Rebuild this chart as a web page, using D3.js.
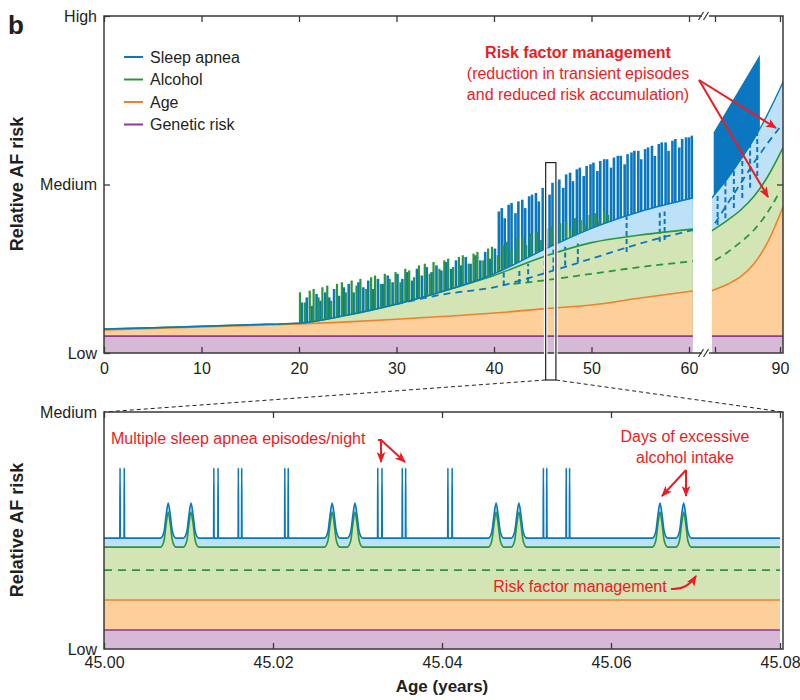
<!DOCTYPE html>
<head>
    <meta charset="utf-8">
    <script src="https://d3js.org/d3.v7.min.js"></script>
    <style>
        body { margin: 0; background: #fff; }
        text { font-family: "Liberation Sans", Arial, sans-serif; fill: #231f20; }
        .tick text { font-size: 16px; }
        .tick line { stroke: #3a3a3a; stroke-width: 1.3; }
    </style>
</head>
<body>
<svg id="chart" width="800" height="700"></svg>
<script>
    // ---------- data: top panel, ages 0-60 ----------
    const leftTicks = [0, 10, 20, 30, 40, 50, 60];
    const leftAges = [0, 5, 10, 15, 20, 25, 30, 35, 40, 45, 50, 55, 60.4];
    const leftGenetic = [0.10, 0.10, 0.10, 0.10, 0.10, 0.10, 0.10, 0.10, 0.10, 0.10, 0.10, 0.10, 0.10];
    const leftAgeRisk = [0.137, 0.145, 0.154, 0.163, 0.172, 0.185, 0.200, 0.218, 0.237, 0.262, 0.285, 0.326, 0.368];
    const leftAlcohol = [0.142, 0.150, 0.159, 0.168, 0.177, 0.225, 0.290, 0.370, 0.460, 0.570, 0.655, 0.700, 0.735];
    const leftSleep = [0.142, 0.150, 0.159, 0.168, 0.177, 0.225, 0.290, 0.370, 0.470, 0.610, 0.740, 0.840, 0.920];
    const leftAlcMgAges = [42, 45, 50, 55, 60.4];
    const leftAlcMg = [0.41, 0.43, 0.47, 0.51, 0.545];
    const leftSlpMgAges = [30, 35, 40, 45, 50, 55, 60.4];
    const leftSlpMg = [0.29, 0.35, 0.39, 0.47, 0.56, 0.65, 0.73];

    const greenSpikeAge = [20.1, 20.6, 21.1, 21.5, 22.0, 22.4, 22.9, 23.3, 23.9, 24.4, 24.8, 25.4, 25.9, 26.3, 26.9,
        27.4, 27.8, 28.4, 28.8, 29.3, 29.9, 30.4, 30.9, 31.3, 31.8, 32.3, 32.9, 33.4, 33.8, 34.4, 34.9, 35.3, 35.8,
        36.4, 36.8, 37.4, 37.9, 38.3, 38.9, 39.4, 39.8, 40.4, 40.9, 41.3, 41.8, 42.4, 42.9, 43.3, 43.8, 44.4, 44.8,
        45.4, 45.9, 46.3, 46.8, 47.4, 47.8, 48.3, 48.9, 49.3, 49.8, 50.4, 50.8, 51.3, 51.7];
    const greenSpikeTop = [0.36, 0.30, 0.37, 0.38, 0.33, 0.39, 0.40, 0.31, 0.41, 0.42, 0.36, 0.43, 0.40, 0.44, 0.38,
        0.45, 0.46, 0.41, 0.47, 0.44, 0.48, 0.42, 0.50, 0.49, 0.45, 0.52, 0.53, 0.47, 0.54, 0.50, 0.55, 0.56, 0.51,
        0.57, 0.58, 0.53, 0.59, 0.60, 0.55, 0.62, 0.63, 0.58, 0.64, 0.66, 0.61, 0.68, 0.69, 0.64, 0.71, 0.72, 0.67,
        0.74, 0.75, 0.70, 0.77, 0.78, 0.73, 0.80, 0.79, 0.76, 0.82, 0.83, 0.78, 0.84, 0.82];

    const blueSpikeAge = [20.3, 20.8, 21.3, 21.8, 22.2, 22.7, 23.1, 23.6, 24.1, 24.6, 25.1, 25.6, 26.1, 26.6, 27.1,
        27.6, 28.1, 28.6, 29.1, 29.6, 30.1, 30.6, 31.1, 31.6, 32.1, 32.6, 33.1, 33.6, 34.1, 34.6, 35.1, 35.6, 36.1,
        36.6, 37.1, 37.6, 38.1, 38.6, 39.1, 39.6, 40.1,
        40.5, 40.8, 41.1, 41.5, 41.8, 42.2, 42.5, 42.9, 43.2, 43.6, 43.9, 44.3, 44.6, 45.0, 45.3, 45.7, 46.0, 46.4,
        46.7, 47.1, 47.4, 47.8, 48.1, 48.5, 48.8, 49.2, 49.5, 49.9, 50.2, 50.6, 50.9, 51.3, 51.6, 52.0, 52.3, 52.7,
        53.0, 53.4, 53.7, 54.1, 54.4, 54.8, 55.1, 55.5, 55.8, 56.2, 56.5, 56.9, 57.2, 57.6, 57.9, 58.3, 58.6, 59.0,
        59.3, 59.7, 60.0, 60.3];
    const blueSpikeTop = [0.30, 0.33, 0.28, 0.35, 0.31, 0.36, 0.33, 0.38, 0.34, 0.39, 0.41, 0.36, 0.42, 0.39, 0.43,
        0.38, 0.44, 0.41, 0.46, 0.42, 0.47, 0.44, 0.48, 0.43, 0.50, 0.46, 0.51, 0.48, 0.52, 0.49, 0.54, 0.50, 0.55,
        0.52, 0.57, 0.53, 0.58, 0.55, 0.60, 0.56, 0.62,
        0.84, 0.86, 0.80, 0.88, 0.89, 0.83, 0.90, 0.91, 0.86, 0.93, 0.94, 0.95, 0.90, 0.98, 0.99, 0.94, 1.01, 1.02,
        1.03, 0.98, 1.06, 1.07, 1.02, 1.09, 1.10, 1.05, 1.11, 1.12, 1.13, 1.08, 1.14, 1.15, 1.15, 1.10, 1.16, 1.17,
        1.17, 1.12, 1.18, 1.19, 1.20, 1.20, 1.15, 1.21, 1.22, 1.23, 1.17, 1.24, 1.25, 1.25, 1.20, 1.26, 1.27, 1.22,
        1.27, 1.28, 1.28, 1.29];

    const leftMgSpikeAge = [41.0, 42.6, 43.5, 45.2, 46.1, 47.3, 48.6, 53.6, 57.0, 57.5];
    const leftMgSpikeLow = [0.40, 0.41, 0.42, 0.47, 0.49, 0.52, 0.54, 0.60, 0.66, 0.67];
    const leftMgSpikeHigh = [0.48, 0.50, 0.53, 0.58, 0.62, 0.63, 0.65, 0.81, 0.84, 0.84];

    // ---------- data: top panel, after the axis break ----------
    const rightTicks = [80, 90];
    const rightTickText = ["", "90"];
    const rightAges = [79.5, 82, 84, 86, 88, 90.5];
    const rightGenetic = [0.10, 0.10, 0.10, 0.10, 0.10, 0.10];
    const rightAgeRisk = [0.37, 0.41, 0.455, 0.53, 0.65, 0.87];
    const rightAlcohol = [0.725, 0.79, 0.85, 0.93, 1.04, 1.22];
    const rightSleep = [0.92, 1.04, 1.15, 1.27, 1.41, 1.61];
    const rightMgAges = [80, 82, 84, 86, 88, 90];
    const rightAlcMg = [0.55, 0.60, 0.66, 0.73, 0.83, 0.96];
    const rightSlpMg = [0.77, 0.89, 1.01, 1.13, 1.24, 1.34];
    const rightBurstAge = [79.8, 86.9];
    const rightBurstTop = [1.31, 1.77];
    const rightMgSpikeAge = [80.4, 81.6, 82.9, 84.2, 85.4, 86.5];
    const rightMgSpikeLow = [0.76, 0.80, 0.86, 0.92, 0.98, 1.05];
    const rightMgSpikeHigh = [0.95, 1.02, 1.09, 1.17, 1.25, 1.32];

    const riskLabels = ["Low", "Medium", "High"];
    const legendNames = ["Sleep apnea", "Alcohol", "Age", "Genetic risk"];

    // ---------- data: zoomed panel (one month at age 45) ----------
    const zoomTicks = [45.00, 45.02, 45.04, 45.06, 45.08];
    const zoomApneaAges = [45.0019, 45.0024, 45.0130, 45.0135, 45.0159, 45.0163, 45.0214, 45.0218, 45.0324,
        45.0329, 45.0353, 45.0357, 45.0407, 45.0412, 45.0520, 45.0524, 45.0547, 45.0551];
    const zoomAlcoholDays = [45.0076, 45.0103, 45.0270, 45.0297, 45.0464, 45.0491, 45.0658, 45.0686];
    const zoomGenetic = 0.08;
    const zoomAgeRisk = 0.207;
    const zoomAlcMg = 0.333;
    const zoomAlcohol = 0.43;
    const zoomSleep = 0.468;
    const zoomApneaTop = 0.764;
    const zoomBump = 0.148;

    const col = {
        blue: "#0a77c0", green: "#2a963a", orange: "#f47f2a", purple: "#8d3996",
        lblue: "#bde2f7", lgreen: "#d3e5b4", lorange: "#fdd09b", lpurple: "#d6b9d7",
        red: "#ec1c24", axis: "#3a3a3a"
    };

    const svg = d3.select("#chart");
    const defs = svg.append("defs");
    defs.append("marker").attr("id", "arrow")
        .attr("viewBox", "0 0 10 8").attr("refX", 9).attr("refY", 4)
        .attr("markerWidth", 11).attr("markerHeight", 9).attr("markerUnits", "userSpaceOnUse")
        .attr("orient", "auto")
        .append("path").attr("d", "M0,0 L10,4 L0,8 L2.5,4 z").attr("fill", col.red);

    // ---------- top panel ----------
    const yTop = d3.scaleLinear().domain([0, 2]).range([353, 16]);
    const xLeft = d3.scaleLinear().domain([0, 60]).range([104, 689]);
    const xRight = d3.scaleLinear().domain([80, 90]).range([715, 780]);

    function drawSegment(x, id, s) {
        defs.append("clipPath").attr("id", id).append("rect")
            .attr("x", x(s.ages[0])).attr("y", yTop(2))
            .attr("width", x(s.ages[s.ages.length - 1]) - x(s.ages[0]))
            .attr("height", yTop(0) - yTop(2));
        const g = svg.append("g").attr("clip-path", "url(#" + id + ")");

        // transient spikes (drawn first, fills cover the part under the baselines)
        if (s.burst) {
            g.append("path")
                .datum(s.burst.age.map((a, i) => ({a: a, v: s.burst.top[i]})))
                .attr("fill", col.blue)
                .attr("d", d3.area().x(d => x(d.a)).y0(yTop(0.1)).y1(d => yTop(d.v)));
        }
        if (s.blueSpikes) {
            g.selectAll("rect.bs").data(s.blueSpikes.age.map((a, i) => ({a: a, v: s.blueSpikes.top[i]})))
                .join("rect").attr("class", "bs")
                .attr("x", d => x(d.a) - 1.3).attr("width", 2.6)
                .attr("y", d => yTop(d.v)).attr("height", d => yTop(0.1) - yTop(d.v))
                .attr("fill", col.blue);
        }
        if (s.greenSpikes) {
            g.selectAll("rect.gs").data(s.greenSpikes.age.map((a, i) => ({a: a, v: s.greenSpikes.top[i]})))
                .join("rect").attr("class", "gs")
                .attr("x", d => x(d.a) - 1.1).attr("width", 2.2)
                .attr("y", d => yTop(d.v)).attr("height", d => yTop(0.1) - yTop(d.v))
                .attr("fill", col.green);
        }

        const rows = s.ages.map((a, i) => ({
            a: a, zero: 0, gen: s.genetic[i], age: s.age[i], alc: s.alcohol[i], slp: s.sleep[i]
        }));
        const band = (lo, hi) => d3.area().x(d => x(d.a)).y0(d => yTop(d[lo])).y1(d => yTop(d[hi]))
            .curve(d3.curveMonotoneX);
        const line = key => d3.line().x(d => x(d.a)).y(d => yTop(d[key])).curve(d3.curveMonotoneX);

        g.append("path").datum(rows).attr("fill", col.lpurple).attr("d", band("zero", "gen"));
        g.append("path").datum(rows).attr("fill", col.lorange).attr("d", band("gen", "age"));
        g.append("path").datum(rows).attr("fill", col.lgreen).attr("d", band("age", "alc"));
        g.append("path").datum(rows).attr("fill", col.lblue).attr("d", band("alc", "slp"));

        // risk factor management (dashed)
        const mgLine = d3.line().x(d => x(d.a)).y(d => yTop(d.v)).curve(d3.curveMonotoneX);
        g.append("path").datum(s.alcMg.ages.map((a, i) => ({a: a, v: s.alcMg.v[i]})))
            .attr("fill", "none").attr("stroke", col.green).attr("stroke-width", 1.8)
            .attr("stroke-dasharray", "7,5").attr("d", mgLine);
        g.append("path").datum(s.slpMg.ages.map((a, i) => ({a: a, v: s.slpMg.v[i]})))
            .attr("fill", "none").attr("stroke", col.blue).attr("stroke-width", 1.8)
            .attr("stroke-dasharray", "7,5").attr("d", mgLine);
        g.selectAll("line.mg").data(s.mgSpikes.age.map((a, i) => ({a: a, lo: s.mgSpikes.low[i], hi: s.mgSpikes.high[i]})))
            .join("line").attr("class", "mg")
            .attr("x1", d => x(d.a)).attr("x2", d => x(d.a))
            .attr("y1", d => yTop(d.lo)).attr("y2", d => yTop(d.hi))
            .attr("stroke", col.blue).attr("stroke-width", 2).attr("stroke-dasharray", "5,3");

        const lineRows = rows.filter(d => d.a >= s.lineFrom && d.a <= s.lineTo + 1);
        g.append("path").datum(rows).attr("fill", "none").attr("stroke", col.purple).attr("stroke-width", 1.6).attr("d", line("gen"));
        g.append("path").datum(rows).attr("fill", "none").attr("stroke", col.orange).attr("stroke-width", 1.6).attr("d", line("age"));
        g.append("path").datum(rows).attr("fill", "none").attr("stroke", col.green).attr("stroke-width", 1.6).attr("d", line("alc"));
        g.append("path").datum(rows).attr("fill", "none").attr("stroke", col.blue).attr("stroke-width", 1.4).attr("d", line("slp"));
    }

    drawSegment(xLeft, "clipL", {
        ages: leftAges, genetic: leftGenetic, age: leftAgeRisk, alcohol: leftAlcohol, sleep: leftSleep,
        alcMg: {ages: leftAlcMgAges, v: leftAlcMg}, slpMg: {ages: leftSlpMgAges, v: leftSlpMg},
        blueSpikes: {age: blueSpikeAge, top: blueSpikeTop}, greenSpikes: {age: greenSpikeAge, top: greenSpikeTop},
        mgSpikes: {age: leftMgSpikeAge, low: leftMgSpikeLow, high: leftMgSpikeHigh}
    });
    drawSegment(xRight, "clipR", {
        ages: rightAges, genetic: rightGenetic, age: rightAgeRisk, alcohol: rightAlcohol, sleep: rightSleep,
        alcMg: {ages: rightMgAges, v: rightAlcMg}, slpMg: {ages: rightMgAges, v: rightSlpMg},
        burst: {age: rightBurstAge, top: rightBurstTop},
        mgSpikes: {age: rightMgSpikeAge, low: rightMgSpikeLow, high: rightMgSpikeHigh}
    });

    // axes of the top panel
    const noDomain = g => g.select(".domain").remove();
    svg.append("g").attr("transform", "translate(0,353)")
        .call(d3.axisBottom(xLeft).tickValues(leftTicks).tickSizeInner(-6).tickSizeOuter(0).tickPadding(10))
        .call(noDomain);
    svg.append("g").attr("transform", "translate(0,353)")
        .call(d3.axisBottom(xRight).tickValues(rightTicks).tickFormat((d, i) => rightTickText[i])
            .tickSizeInner(-6).tickSizeOuter(0).tickPadding(10))
        .call(noDomain);
    svg.append("g").attr("transform", "translate(0,16)")
        .call(d3.axisTop(xLeft).tickValues(leftTicks).tickFormat("").tickSizeInner(-6).tickSizeOuter(0))
        .call(noDomain);
    svg.append("g").attr("transform", "translate(0,16)")
        .call(d3.axisTop(xRight).tickValues(rightTicks).tickFormat("").tickSizeInner(-6).tickSizeOuter(0))
        .call(noDomain);
    svg.append("g").attr("transform", "translate(104,0)")
        .call(d3.axisLeft(yTop).tickValues([0, 1, 2]).tickFormat(d => riskLabels[d])
            .tickSizeInner(-6).tickSizeOuter(0).tickPadding(7))
        .call(noDomain);
    svg.append("g").attr("transform", "translate(783,0)")
        .call(d3.axisRight(yTop).tickValues([1]).tickFormat("").tickSizeInner(-6).tickSizeOuter(0))
        .call(noDomain);

    // frame with axis break
    const frame = svg.append("g").attr("stroke", col.axis).attr("stroke-width", 1.5).attr("fill", "none");
    frame.append("path").attr("d", "M702,16 H104 V353 H702");
    frame.append("path").attr("d", "M709,16 H783 V353 H709");
    [16, 353].forEach(yy => {
        [701, 706].forEach(xx => {
            frame.append("line").attr("x1", xx - 2.5).attr("y1", yy + 4).attr("x2", xx + 2.5).attr("y2", yy - 4)
                .attr("stroke-width", 1.2);
        });
    });

    // legend
    const leg = svg.append("g").attr("transform", "translate(124,57)");
    [col.blue, col.green, col.orange, col.purple].forEach((c, i) => {
        leg.append("line").attr("x1", 0).attr("x2", 19).attr("y1", i * 22.5).attr("y2", i * 22.5)
            .attr("stroke", c).attr("stroke-width", 2);
        leg.append("text").attr("x", 26).attr("y", i * 22.5).attr("dy", "0.35em")
            .style("font-size", "16px").text(legendNames[i]);
    });

    // annotation top
    const ann = svg.append("g").style("font-size", "16px").attr("text-anchor", "middle");
    ann.append("text").attr("x", 578).attr("y", 58).style("fill", col.red).style("font-weight", "bold")
        .text("Risk factor management");
    ann.append("text").attr("x", 578).attr("y", 79).style("fill", col.red).text("(reduction in transient episodes");
    ann.append("text").attr("x", 578).attr("y", 100).style("fill", col.red).text("and reduced risk accumulation)");
    const arrow = (x1, y1, x2, y2) => svg.append("line").attr("x1", x1).attr("y1", y1).attr("x2", x2).attr("y2", y2)
        .attr("stroke", col.red).attr("stroke-width", 2).attr("marker-end", "url(#arrow)");
    arrow(699, 80, 776, 128);
    arrow(699, 80, 768, 197);

    // zoom window and connectors
    const zoomWin = [45.3, 46.35];
    svg.append("rect").attr("x", xLeft(zoomWin[0])).attr("y", yTop(1.13))
        .attr("width", xLeft(zoomWin[1]) - xLeft(zoomWin[0])).attr("height", 380 - yTop(1.13))
        .attr("fill", "none").attr("stroke", "#fff").attr("stroke-width", 3.5);
    svg.append("rect").attr("x", xLeft(zoomWin[0])).attr("y", yTop(1.13))
        .attr("width", xLeft(zoomWin[1]) - xLeft(zoomWin[0])).attr("height", 380 - yTop(1.13))
        .attr("fill", "none").attr("stroke", "#222").attr("stroke-width", 1.2);

    // ---------- bottom (zoomed) panel ----------
    const yBot = d3.scaleLinear().domain([0, 1]).range([649, 412]);
    const xBot = d3.scaleLinear().domain([45.00, 45.08]).range([104, 780]);

    svg.append("line").attr("x1", xLeft(zoomWin[0])).attr("y1", 380).attr("x2", 104).attr("y2", 412)
        .attr("stroke", "#222").attr("stroke-width", 1).attr("stroke-dasharray", "4,3");
    svg.append("line").attr("x1", xLeft(zoomWin[1])).attr("y1", 380).attr("x2", 783).attr("y2", 412)
        .attr("stroke", "#222").attr("stroke-width", 1).attr("stroke-dasharray", "4,3");

    const bumpShape = [[-9, 0], [-5, 0.18], [-2.5, 0.65], [0, 1], [2.5, 0.65], [5, 0.18], [9, 0]];
    let zRows = [{a: 45.0, g: zoomAlcohol, b: zoomSleep}, {a: 45.08, g: zoomAlcohol, b: zoomSleep}];
    zoomAlcoholDays.forEach(c => bumpShape.forEach(([dx, f]) => zRows.push({
        a: c + dx * 1e-4, g: zoomAlcohol + f * zoomBump, b: zoomSleep + f * zoomBump
    })));
    zoomApneaAges.forEach(s => {
        zRows.push({a: s - 3e-5, g: zoomAlcohol, b: zoomSleep});
        zRows.push({a: s, g: zoomAlcohol, b: zoomApneaTop});
        zRows.push({a: s + 3e-5, g: zoomAlcohol, b: zoomSleep});
    });
    zRows.sort((p, q) => p.a - q.a);
    zRows.forEach(d => { d.zero = 0; d.gen = zoomGenetic; d.age = zoomAgeRisk; d.mg = zoomAlcMg; });

    const gb = svg.append("g");
    const bandB = (lo, hi) => d3.area().x(d => xBot(d.a)).y0(d => yBot(d[lo])).y1(d => yBot(d[hi]))
        .curve(d3.curveMonotoneX);
    const lineB = key => d3.line().x(d => xBot(d.a)).y(d => yBot(d[key])).curve(d3.curveMonotoneX);
    gb.append("path").datum(zRows).attr("fill", col.lpurple).attr("d", bandB("zero", "gen"));
    gb.append("path").datum(zRows).attr("fill", col.lorange).attr("d", bandB("gen", "age"));
    gb.append("path").datum(zRows).attr("fill", col.lgreen).attr("d", bandB("age", "g"));
    gb.append("path").datum(zRows).attr("fill", col.lblue).attr("d", bandB("g", "b"));
    gb.append("path").datum(zRows).attr("fill", "none").attr("stroke", col.purple).attr("stroke-width", 1.6).attr("d", lineB("gen"));
    gb.append("path").datum(zRows).attr("fill", "none").attr("stroke", col.orange).attr("stroke-width", 1.6).attr("d", lineB("age"));
    gb.append("path").datum(zRows).attr("fill", "none").attr("stroke", col.green).attr("stroke-width", 1.6)
        .attr("stroke-dasharray", "8,6").attr("d", lineB("mg"));
    gb.append("path").datum(zRows).attr("fill", "none").attr("stroke", col.green).attr("stroke-width", 1.6).attr("d", lineB("g"));
    gb.append("path").datum(zRows).attr("fill", "none").attr("stroke", col.blue).attr("stroke-width", 1.6).attr("d", lineB("b"));

    svg.append("g").attr("transform", "translate(0,649)")
        .call(d3.axisBottom(xBot).tickValues(zoomTicks).tickFormat(d3.format(".2f"))
            .tickSizeInner(-6).tickSizeOuter(0).tickPadding(8))
        .call(noDomain);
    svg.append("g").attr("transform", "translate(0,412)")
        .call(d3.axisTop(xBot).tickValues(zoomTicks).tickFormat("").tickSizeInner(-6).tickSizeOuter(0))
        .call(noDomain);
    svg.append("g").attr("transform", "translate(104,0)")
        .call(d3.axisLeft(yBot).tickValues([0, 1]).tickFormat(d => riskLabels[d])
            .tickSizeInner(0).tickSizeOuter(0).tickPadding(7))
        .call(noDomain);
    svg.append("rect").attr("x", 104).attr("y", 412).attr("width", 679).attr("height", 237)
        .attr("fill", "none").attr("stroke", col.axis).attr("stroke-width", 1.5);

    // annotations bottom
    const ann2 = svg.append("g").style("font-size", "16px");
    ann2.append("text").attr("x", 111).attr("y", 444).style("fill", col.red).text("Multiple sleep apnea episodes/night");
    ann2.append("text").attr("x", 685).attr("y", 442).attr("text-anchor", "middle").style("fill", col.red).text("Days of excessive");
    ann2.append("text").attr("x", 685).attr("y", 463).attr("text-anchor", "middle").style("fill", col.red).text("alcohol intake");
    ann2.append("text").attr("x", 580).attr("y", 592).attr("text-anchor", "middle").style("fill", col.red).text("Risk factor management");
    svg.append("path").attr("d", "M378,440 H381 V462").attr("fill", "none")
        .attr("stroke", col.red).attr("stroke-width", 2).attr("marker-end", "url(#arrow)");
    arrow(381, 440, 405, 462);
    arrow(686, 470, 662, 496);
    arrow(686, 470, 686, 496);
    svg.append("path").attr("d", "M671,589 Q687,590 696,576").attr("fill", "none")
        .attr("stroke", col.red).attr("stroke-width", 2).attr("marker-end", "url(#arrow)");

    // titles
    svg.append("text").attr("x", 8).attr("y", 34).style("font-size", "26px").style("font-weight", "bold").text("b");
    svg.append("text").attr("transform", "translate(17,184) rotate(-90)").attr("text-anchor", "middle")
        .attr("dy", "0.35em").style("font-size", "18px").style("font-weight", "bold").text("Relative AF risk");
    svg.append("text").attr("transform", "translate(17,530) rotate(-90)").attr("text-anchor", "middle")
        .attr("dy", "0.35em").style("font-size", "18px").style("font-weight", "bold").text("Relative AF risk");
    svg.append("text").attr("x", 442).attr("y", 692).attr("text-anchor", "middle")
        .style("font-size", "17px").style("font-weight", "bold").text("Age (years)");
</script>
</body>
